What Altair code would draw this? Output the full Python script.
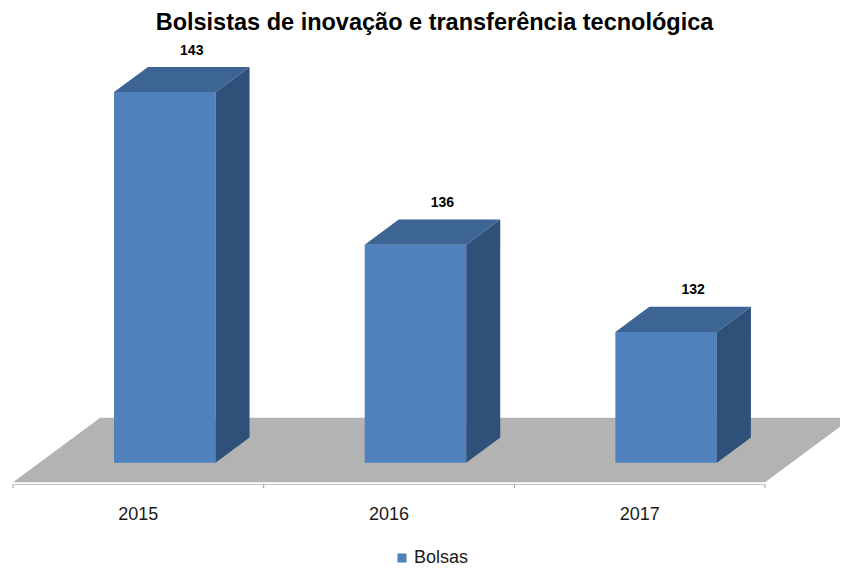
import altair as alt
import pandas as pd

# ---- data ----
anos = ["2015", "2016", "2017"]
bolsas = [143, 136, 132]
serie = "Bolsas"
titulo = "Bolsistas de inovação e transferência tecnológica"

# ---- 3D geometry (style constants, in data units) ----
BASE = 126.0                 # value-axis minimum (bar floor)
BAR_LEFT, BAR_W = 0.403, 0.405
DX, DY = 0.1356, 1.155       # bar depth offset
FLOOR_FRONT, FLOOR_BACK = 125.11, 128.07
FLOOR_DX = 0.348
AXIS_Y, TICK_Y2 = 125.0, 124.84
CAT_LABEL_Y = 123.6
VAL_LABEL_DX, VAL_LABEL_DY = 0.31, 0.75

FRONT = "#4F81BD"
TOP = "#3C6495"
SIDE = "#2F5179"
FLOOR = "#B3B3B3"

n = len(anos)

front = pd.DataFrame({
    "ano": anos,
    "serie": [serie] * n,
    "x": [i + BAR_LEFT for i in range(n)],
    "x2": [i + BAR_LEFT + BAR_W for i in range(n)],
    "y": [BASE] * n,
    "y2": bolsas,
})

side_rows, top_rows = [], []
for i, (a, v) in enumerate(zip(anos, bolsas)):
    L = i + BAR_LEFT
    R = L + BAR_W
    side_rows += [
        {"ano": a, "x": R, "lo": BASE, "hi": v},
        {"ano": a, "x": R + DX, "lo": BASE + DY, "hi": v + DY},
    ]
    top_rows += [
        {"ano": a, "x": L, "lo": v, "hi": v},
        {"ano": a, "x": L + DX, "lo": v, "hi": v + DY},
        {"ano": a, "x": R, "lo": v, "hi": v + DY},
        {"ano": a, "x": R + DX, "lo": v + DY, "hi": v + DY},
    ]
side = pd.DataFrame(side_rows)
top = pd.DataFrame(top_rows)

floor = pd.DataFrame({
    "ano": ["floor"] * 4,
    "x": [0.0, FLOOR_DX, float(n), n + FLOOR_DX],
    "lo": [FLOOR_FRONT, FLOOR_FRONT, FLOOR_FRONT, FLOOR_BACK],
    "hi": [FLOOR_FRONT, FLOOR_BACK, FLOOR_BACK, FLOOR_BACK],
})

labels = pd.DataFrame({
    "x": [i + BAR_LEFT + VAL_LABEL_DX for i in range(n)],
    "y": [v + DY + VAL_LABEL_DY for v in bolsas],
    "t": [str(v) for v in bolsas],
})
cats = pd.DataFrame({"x": [i + 0.5 for i in range(n)], "y": [CAT_LABEL_Y] * n, "t": anos})
axis_line = pd.DataFrame({"x": [0], "x2": [n], "y": [AXIS_Y]})
ticks = pd.DataFrame({"x": list(range(n + 1)), "y": [AXIS_Y] * (n + 1), "y2": [TICK_Y2] * (n + 1)})

xs = alt.Scale(domain=[0, 3.299], nice=False, zero=False)
ys = alt.Scale(domain=[121.22, 145.48], nice=False, zero=False)


def X(f):
    return alt.X(f, scale=xs, axis=None)


def Y(f):
    return alt.Y(f, scale=ys, axis=None)


def face(df, color, clip=False):
    return alt.Chart(df).mark_area(color=color, orient="vertical", clip=clip, opacity=1).encode(
        x=X("x:Q"), y=Y("lo:Q"), y2=alt.Y2("hi:Q"), detail="ano:N")


floor_l = face(floor, FLOOR, clip=True)

axis_l = alt.Chart(axis_line).mark_rule(color="#C4C4C4", strokeWidth=1).encode(
    x=X("x:Q"), x2="x2:Q", y=Y("y:Q"))
ticks_l = alt.Chart(ticks).mark_rule(color="#9A9A9A", strokeWidth=1).encode(
    x=X("x:Q"), y=Y("y:Q"), y2="y2:Q")

front_l = alt.Chart(front).mark_rect().encode(
    x=X("x:Q"), x2="x2:Q", y=Y("y:Q"), y2="y2:Q",
    color=alt.Color("serie:N", scale=alt.Scale(domain=[serie], range=[FRONT]),
                    legend=alt.Legend(title=None, orient="none", legendX=380, legendY=511,
                                      symbolType="square", symbolSize=81, symbolStrokeWidth=0,
                                      labelFont="Liberation Sans", labelFontSize=18,
                                      labelOffset=3, labelColor="#1A1A1A", padding=0)))
side_l = face(side, SIDE)
top_l = face(top, TOP)

val_l = alt.Chart(labels).mark_text(font="Liberation Sans", fontSize=14, fontWeight="bold",
                                    color="#000000", baseline="middle", align="center").encode(
    x=X("x:Q"), y=Y("y:Q"), text="t:N")
cat_l = alt.Chart(cats).mark_text(font="Liberation Sans", fontSize=18, color="#1A1A1A",
                                  baseline="middle", align="center").encode(
    x=X("x:Q"), y=Y("y:Q"), text="t:N")

chart = alt.layer(floor_l, axis_l, ticks_l, front_l, side_l, top_l, val_l, cat_l).properties(
    width=827, height=529,
    autosize=alt.AutoSizeParams(type="none"),
    padding={"left": 5, "top": 30, "right": 0, "bottom": 0},
    title=alt.TitleParams(titulo, font="Liberation Sans", fontSize=23.5, fontWeight="bold",
                          anchor="middle", color="#000000", offset=4, dx=8),
).configure_view(stroke=None)

chart.save("out.html", embed_options={"renderer": "svg", "actions": False})
